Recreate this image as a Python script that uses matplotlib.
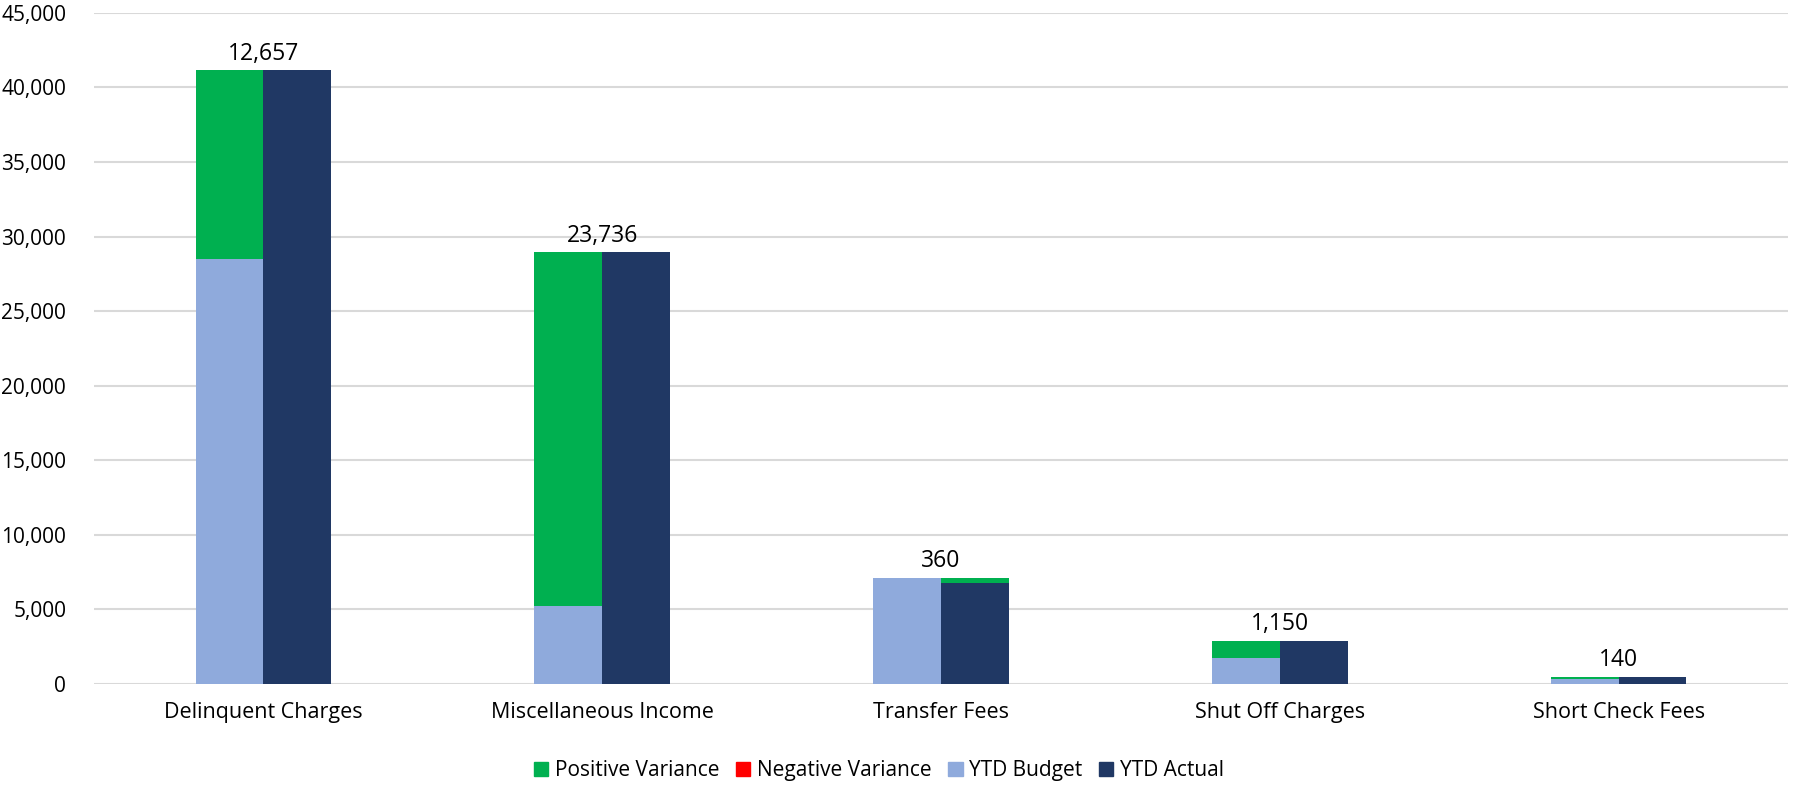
import matplotlib
matplotlib.use("Agg")
import matplotlib.pyplot as plt
from matplotlib.patches import Patch
from matplotlib.ticker import FuncFormatter, MultipleLocator
import numpy as np

categories = ["Delinquent Charges", "Miscellaneous Income", "Transfer Fees",
              "Shut Off Charges", "Short Check Fees"]
ytd_budget = [28500, 5210, 7130, 1755, 350]
ytd_actual = [41157, 28946, 6770, 2905, 490]

GREEN = "#00B050"
RED = "#FF0000"
BUDGET = "#8FAADC"
ACTUAL = "#203864"
GRID = "#D9D9D9"

plt.rcParams["font.family"] = ["Open Sans", "DejaVu Sans"]

fig = plt.figure(figsize=(17.97, 7.85), dpi=100)
ax = fig.add_axes([0.0523, 0.1287, 0.9427, 0.855])

x = np.arange(len(categories))
w = 0.2
budget = np.array(ytd_budget, dtype=float)
actual = np.array(ytd_actual, dtype=float)
variance = actual - budget

ax.bar(x - w / 2, budget, width=w, color=BUDGET, zorder=3)
ax.bar(x + w / 2, actual, width=w, color=ACTUAL, zorder=3)

# variance segment sits on top of whichever bar is shorter
for i, v in enumerate(variance):
    if v >= 0:
        ax.bar(x[i] - w / 2, v, bottom=budget[i], width=w, color=GREEN, zorder=3)
    else:
        ax.bar(x[i] + w / 2, -v, bottom=actual[i], width=w, color=GREEN, zorder=3)
    top = max(budget[i], actual[i])
    ax.annotate(f"{abs(v):,.0f}", (x[i], top), xytext=(0, 3),
                textcoords="offset points", ha="center", va="bottom",
                fontsize=16.5, color="#000000")

ax.set_xlim(-0.5, len(categories) - 0.5)
ax.set_ylim(0, 45000)
ax.yaxis.set_major_locator(MultipleLocator(5000))
ax.yaxis.set_major_formatter(FuncFormatter(lambda v, p: f"{v:,.0f}"))
ax.set_xticks(x)
ax.set_xticklabels(categories)
ax.tick_params(axis="x", length=0, labelsize=15.5, colors="#000000", pad=13)
ax.tick_params(axis="y", length=0, labelsize=15, colors="#000000", pad=20)
ax.grid(axis="y", color=GRID, linewidth=1.5, zorder=0)
for s in ax.spines.values():
    s.set_visible(False)

handles = [Patch(color=GREEN, label="Positive Variance"),
           Patch(color=RED, label="Negative Variance"),
           Patch(color=BUDGET, label="YTD Budget"),
           Patch(color=ACTUAL, label="YTD Actual")]
fig.legend(handles=handles, loc="center", bbox_to_anchor=(0.489, 0.018),
           ncol=4, frameon=False, fontsize=15, handlelength=0.7,
           handleheight=0.7, handletextpad=0.3, columnspacing=0.8)

fig.savefig("out.png", dpi=100)
